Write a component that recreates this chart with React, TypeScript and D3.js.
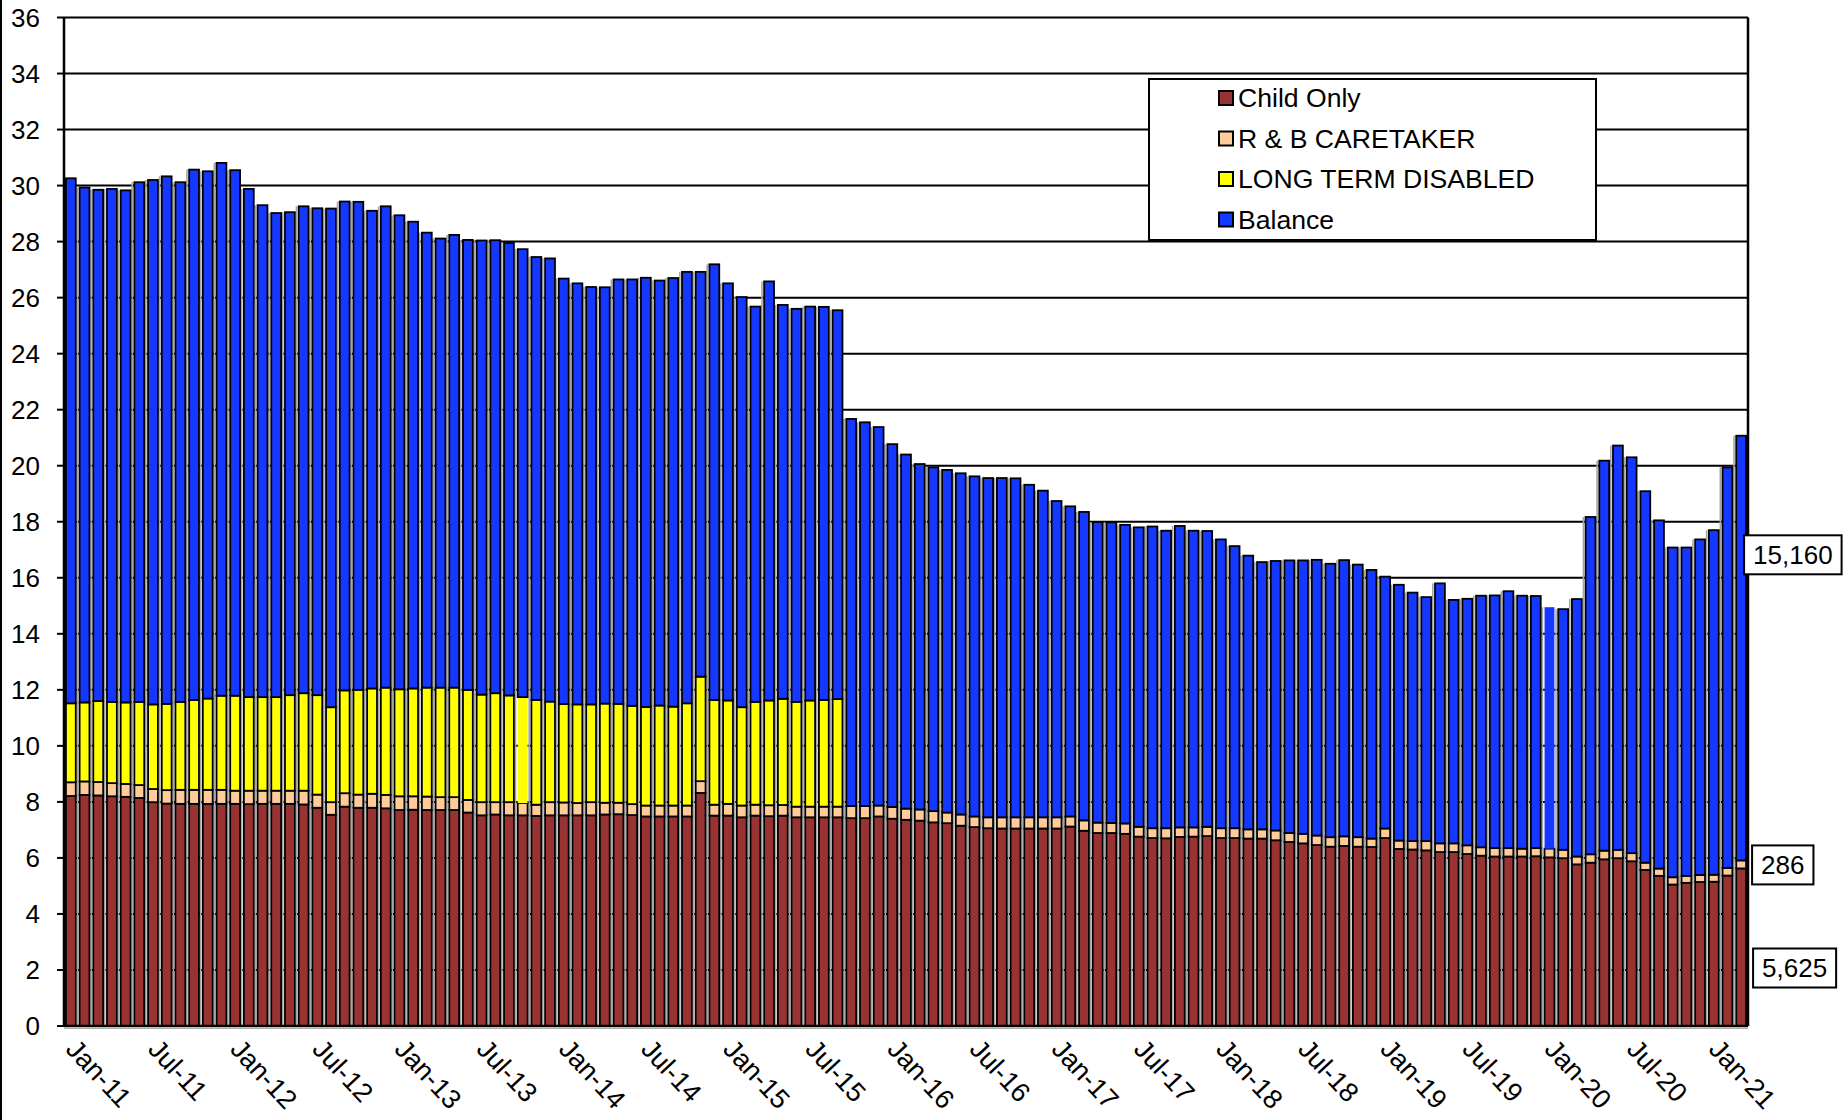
import { useMemo } from 'react';
import * as d3 from 'd3';

const WIDTH = 1848;
const HEIGHT = 1120;
const MARGIN = { top: 17.5, right: 100, bottom: 94, left: 64 };
const FONT = '"Liberation Sans", Arial, sans-serif';

// cases in thousands, one value per month from Jan-11 to Mar-21
const childOnly = [
  8.21, 8.25, 8.23, 8.2, 8.18, 8.14, 7.99, 7.94, 7.93, 7.93, 7.93, 7.93,
  7.93, 7.92, 7.93, 7.93, 7.93, 7.91, 7.79, 7.54, 7.83, 7.79, 7.79, 7.77,
  7.71, 7.72, 7.71, 7.71, 7.71, 7.62, 7.52, 7.55, 7.52, 7.52, 7.5, 7.52,
  7.52, 7.52, 7.52, 7.55, 7.56, 7.53, 7.48, 7.48, 7.48, 7.48, 8.32, 7.51,
  7.51, 7.45, 7.51, 7.49, 7.51, 7.45, 7.45, 7.45, 7.45, 7.42, 7.42, 7.48,
  7.4, 7.36, 7.33, 7.27, 7.24, 7.15, 7.1, 7.06, 7.05, 7.05, 7.05, 7.05,
  7.05, 7.12, 6.97, 6.89, 6.89, 6.86, 6.76, 6.71, 6.7, 6.75, 6.76, 6.78,
  6.71, 6.71, 6.69, 6.69, 6.63, 6.57, 6.52, 6.46, 6.4, 6.43, 6.4, 6.39,
  6.71, 6.32, 6.3, 6.27, 6.21, 6.21, 6.14, 6.08, 6.05, 6.05, 6.05, 6.06,
  6.02, 5.99, 5.77, 5.83, 5.95, 5.99, 5.88, 5.57, 5.36, 5.05, 5.11, 5.14,
  5.15, 5.37, 5.625,
];
const rbCaretaker = [
  0.49, 0.48, 0.48, 0.47, 0.46, 0.46, 0.47, 0.48, 0.5, 0.5, 0.5, 0.5,
  0.47, 0.48, 0.47, 0.47, 0.47, 0.49, 0.47, 0.45, 0.48, 0.47, 0.5, 0.48,
  0.49, 0.48, 0.48, 0.46, 0.46, 0.45, 0.47, 0.44, 0.47, 0.44, 0.4, 0.47,
  0.46, 0.44, 0.47, 0.42, 0.41, 0.39, 0.39, 0.39, 0.39, 0.39, 0.42, 0.39,
  0.42, 0.42, 0.39, 0.39, 0.38, 0.38, 0.38, 0.38, 0.38, 0.43, 0.43, 0.39,
  0.42, 0.4, 0.4, 0.4, 0.38, 0.4, 0.38, 0.39, 0.4, 0.4, 0.4, 0.4,
  0.4, 0.36, 0.37, 0.37, 0.36, 0.37, 0.35, 0.35, 0.36, 0.34, 0.33, 0.33,
  0.35, 0.35, 0.33, 0.33, 0.35, 0.32, 0.34, 0.34, 0.34, 0.34, 0.34, 0.3,
  0.34, 0.3, 0.3, 0.33, 0.31, 0.31, 0.31, 0.3, 0.3, 0.3, 0.28, 0.29,
  0.31, 0.3, 0.28, 0.3, 0.31, 0.3, 0.29, 0.26, 0.26, 0.26, 0.25, 0.25,
  0.25, 0.27, 0.286,
];
const longTermDisabled = [
  2.82, 2.82, 2.89, 2.9, 2.91, 2.97, 3.02, 3.08, 3.14, 3.21, 3.26, 3.36,
  3.39, 3.34, 3.34, 3.34, 3.41, 3.48, 3.55, 3.39, 3.67, 3.74, 3.76, 3.83,
  3.82, 3.85, 3.89, 3.91, 3.91, 3.93, 3.84, 3.89, 3.81, 3.78, 3.74, 3.59,
  3.51, 3.52, 3.49, 3.54, 3.53, 3.51, 3.52, 3.57, 3.53, 3.65, 3.73, 3.74,
  3.69, 3.51, 3.67, 3.74, 3.79, 3.74, 3.79, 3.81, 3.84, 0, 0, 0,
  0, 0, 0, 0, 0, 0, 0, 0, 0, 0, 0, 0,
  0, 0, 0, 0, 0, 0, 0, 0, 0, 0, 0, 0,
  0, 0, 0, 0, 0, 0, 0, 0, 0, 0, 0, 0,
  0, 0, 0, 0, 0, 0, 0, 0, 0, 0, 0, 0,
  0, 0, 0, 0, 0, 0, 0, 0, 0, 0, 0, 0,
  0, 0, 0,
];
const balance = [
  18.74, 18.38, 18.25, 18.31, 18.28, 18.55, 18.72, 18.83, 18.55, 18.93, 18.82, 19.02,
  18.76, 18.14, 17.56, 17.28, 17.24, 17.38, 17.38, 17.8, 17.45, 17.42, 17.05, 17.18,
  16.92, 16.66, 16.24, 16.03, 16.16, 16.06, 16.21, 16.17, 16.15, 15.99, 15.81, 15.82,
  15.19, 15.03, 14.9, 14.86, 15.15, 15.22, 15.32, 15.17, 15.3, 15.4, 14.45, 15.55,
  14.89, 14.64, 14.11, 14.96, 14.06, 14.03, 14.06, 14.03, 13.88, 13.82, 13.7, 13.51,
  12.95, 12.64, 12.33, 12.27, 12.23, 12.18, 12.14, 12.11, 12.11, 12.1, 11.87, 11.66,
  11.29, 11.07, 11.01, 10.73, 10.73, 10.66, 10.69, 10.77, 10.62, 10.76, 10.59, 10.56,
  10.31, 10.07, 9.77, 9.54, 9.62, 9.73, 9.76, 9.84, 9.76, 9.86, 9.73, 9.59,
  8.99, 9.13, 8.87, 8.71, 9.28, 8.69, 8.8, 8.98, 9.02, 9.17, 9.03, 9.0,
  8.62, 8.59, 9.19, 12.04, 13.92, 14.43, 14.13, 13.26, 12.43, 11.77, 11.72, 11.98,
  12.3, 14.3, 15.16,
];

const firstMonth = new Date(2011, 0, 1);
const seriesKeys = ['child', 'rb', 'ltd', 'bal'];
const seriesNames = ['Child Only', 'R & B CARETAKER', 'LONG TERM DISABLED', 'Balance'];
const seriesColors = ['#993333', '#FFCC99', '#FFFF00', '#1438FF'];
const yTickValues = [0, 2, 4, 6, 8, 10, 12, 14, 16, 18, 20, 22, 24, 26, 28, 30, 32, 34, 36];
// labels shown on the last month
const lastLabels = ['5,625', '286', '15,160'];
// two segments have no outline in the original
const unstroked = ['33-ltd', '108-bal'];

const textWidth = (s: string, size: number) =>
  d3.sum(s.split(''), (c) => (c === ',' ? 0.278 : 0.556)) * size;

export default function App() {
  const plotLeft = MARGIN.left;
  const plotRight = WIDTH - MARGIN.right;
  const plotTop = MARGIN.top;
  const plotBottom = HEIGHT - MARGIN.bottom;

  const months = useMemo(
    () => d3.timeMonth.range(firstMonth, d3.timeMonth.offset(firstMonth, childOnly.length)),
    []
  );

  const rows = months.map((m, i) => ({
    month: m,
    child: childOnly[i],
    rb: rbCaretaker[i],
    ltd: longTermDisabled[i],
    bal: balance[i],
  }));

  const stacked = d3.stack<any>().keys(seriesKeys)(rows);

  const xScale = d3
    .scaleBand<number>()
    .domain(d3.range(rows.length))
    .range([plotLeft, plotRight])
    .paddingInner(0.28)
    .paddingOuter(0.14);

  const yScale = d3.scaleLinear().domain([0, 36]).range([plotBottom, plotTop]);

  const fmt = d3.timeFormat('%b-%y');
  const bw = xScale.bandwidth();

  const lastIdx = rows.length - 1;
  const lastX = xScale(lastIdx)! + bw;
  // label boxes: [left offset from bar edge, value on y axis for box centre]
  const labelPos = [
    { dx: 7, y: 2.07 },
    { dx: 6, y: 5.75 },
    { dx: -2, y: 16.82 },
  ];

  return (
    <svg
      width={WIDTH}
      height={HEIGHT}
      style={{ position: 'absolute', left: 0, top: 0, background: '#fff' }}
      fontFamily={FONT}
    >
      <line x1={1} x2={1} y1={0} y2={HEIGHT} stroke="#000" strokeWidth={2} />

      {/* gridlines */}
      {yTickValues.map((t) => (
        <line
          key={'g' + t}
          x1={plotLeft}
          x2={plotRight}
          y1={yScale(t)}
          y2={yScale(t)}
          stroke="#000"
          strokeWidth={2}
        />
      ))}

      {/* bar shadows */}
      {rows.map((r, i) => (
        <rect
          key={'s' + i}
          x={xScale(i)! - 3}
          width={1.6}
          y={yScale(r.child + r.rb + r.ltd + r.bal)}
          height={plotBottom - yScale(r.child + r.rb + r.ltd + r.bal)}
          fill="#a6a6a6"
        />
      ))}

      {/* stacked bars */}
      {stacked.map((s, si) => (
        <g key={s.key}>
          {s.map((d, i) => {
            if (d[1] - d[0] <= 0) return null;
            const noStroke = unstroked.includes(`${i}-${s.key}`);
            return (
              <rect
                key={i}
                x={xScale(i)}
                width={bw}
                y={yScale(d[1])}
                height={yScale(d[0]) - yScale(d[1])}
                fill={seriesColors[si]}
                stroke={noStroke ? 'none' : '#000'}
                strokeWidth={1.8}
              />
            );
          })}
        </g>
      ))}

      {/* axes frame */}
      <line x1={plotLeft} x2={plotLeft} y1={plotTop} y2={plotBottom} stroke="#000" strokeWidth={2.5} />
      <line x1={plotRight} x2={plotRight} y1={plotTop} y2={plotBottom} stroke="#000" strokeWidth={2.5} />
      <line x1={plotLeft} x2={plotRight} y1={plotBottom} y2={plotBottom} stroke="#000" strokeWidth={2.5} />
      <line x1={plotLeft} x2={plotRight} y1={plotBottom + 2.5} y2={plotBottom + 2.5} stroke="#b0b0b0" strokeWidth={1} />

      {/* y ticks */}
      {yTickValues.map((t) => (
        <g key={'t' + t}>
          <line x1={plotLeft - 7} x2={plotLeft} y1={yScale(t)} y2={yScale(t)} stroke="#000" strokeWidth={2} />
          <text
            x={plotLeft - 24}
            y={yScale(t)}
            textAnchor="end"
            dominantBaseline="central"
            fontSize={26}
            fill="#000"
          >
            {t}
          </text>
        </g>
      ))}

      {/* x labels */}
      {rows.map((r, i) =>
        i % 6 === 0 ? (
          <text
            key={'x' + i}
            transform={`translate(${xScale(i)! + bw / 2 + 8},${plotBottom + 11}) rotate(47)`}
            dy="0.72em"
            fontSize={27}
            fill="#000"
          >
            {fmt(r.month)}
          </text>
        ) : null
      )}

      {/* labels on last bar */}
      {lastLabels.map((lab, k) => {
        const w = textWidth(lab, 26) + 18;
        const cy = yScale(labelPos[k].y);
        const x0 = lastX + labelPos[k].dx;
        return (
          <g key={'l' + k}>
            <rect x={x0} y={cy - 19.5} width={w} height={39} fill="#fff" stroke="#000" strokeWidth={2} />
            <text x={x0 + w / 2} y={cy} textAnchor="middle" dominantBaseline="central" fontSize={26}>
              {lab}
            </text>
          </g>
        );
      })}

      {/* legend */}
      <g transform="translate(1149,79)">
        <rect width={447} height={161} fill="#fff" stroke="#000" strokeWidth={2} />
        {seriesNames.map((name, k) => (
          <g key={name} transform={`translate(0,${19 + k * 40.5})`}>
            <rect x={70} y={-7} width={14} height={14} fill={seriesColors[k]} stroke="#000" strokeWidth={2} />
            <text x={89} y={0} dominantBaseline="central" fontSize={26.6} fill="#000">
              {name}
            </text>
          </g>
        ))}
      </g>
    </svg>
  );
}
